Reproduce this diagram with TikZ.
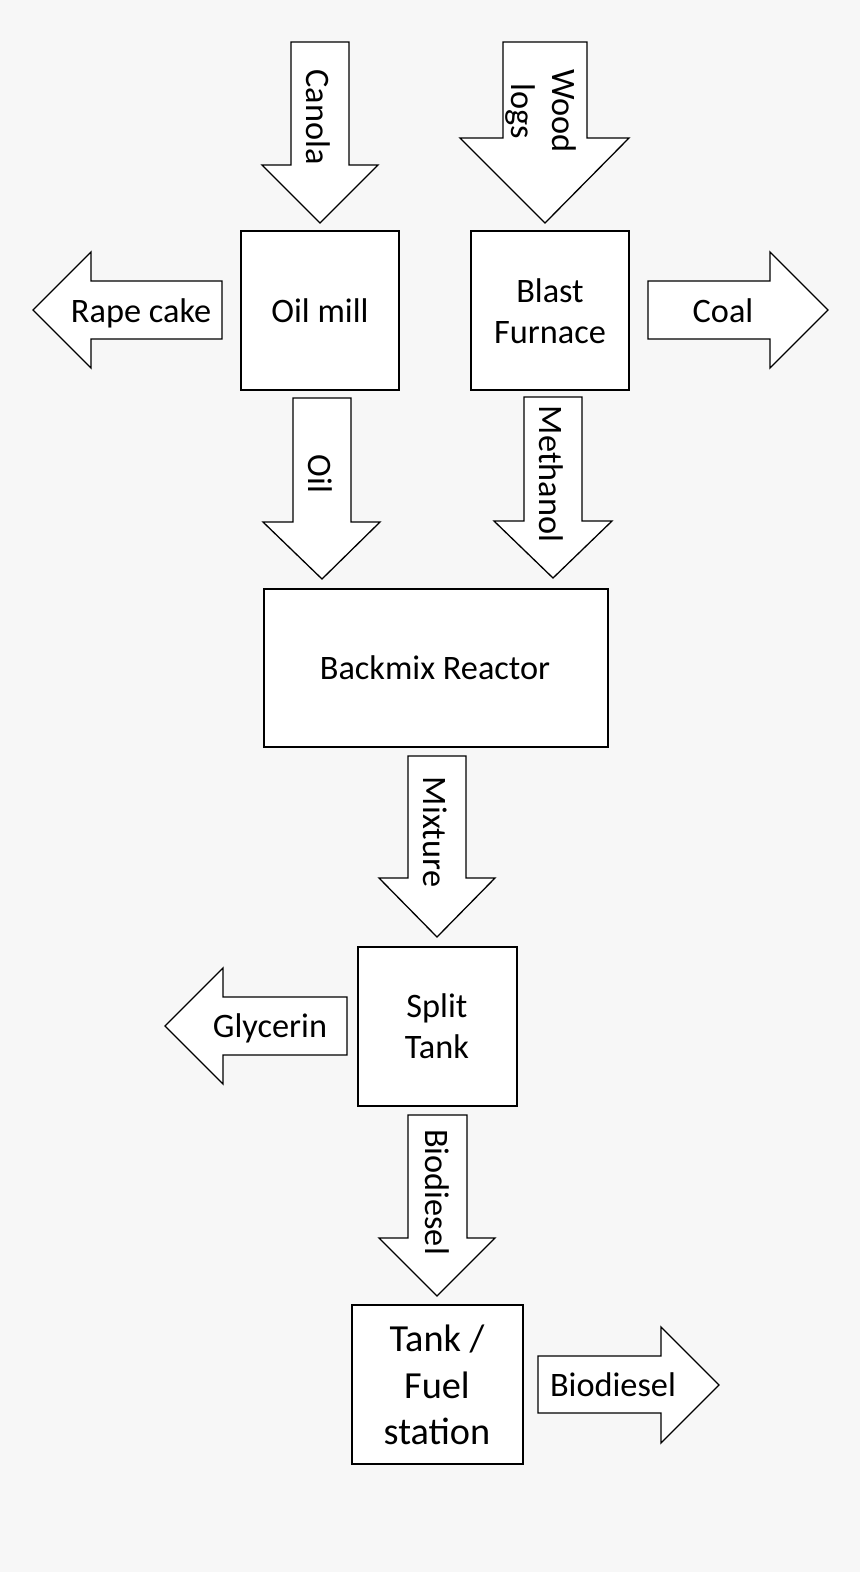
\documentclass[tikz,border=0pt]{standalone}
\usepackage{fontspec}
\setmainfont{Carlito}
\definecolor{bgcol}{HTML}{F7F7F7}
\begin{document}
\begin{tikzpicture}[x=1pt,y=-1pt,
  shapebox/.style={draw=black,fill=white,line width=1.3pt,line join=miter},
  lbl/.style={inner sep=0pt,anchor=base,font=\fontsize{34.3}{41}\selectfont},
  biglbl/.style={inner sep=0pt,anchor=base,font=\fontsize{38.3}{46}\selectfont},
  vlbl/.style={lbl,rotate=-90}]
\fill[bgcol] (0,0) rectangle (860,1572);
\useasboundingbox (0,0) rectangle (860,1572);
% block arrows
\draw[shapebox] (291,42)--(349,42)--(349,165)--(378,165)--(320,223)--(262,165)--(291,165)--cycle;
\draw[shapebox] (503,42)--(587,42)--(587,138)--(629,138)--(545,223)--(460,138)--(503,138)--cycle;
\draw[shapebox] (222,281)--(91,281)--(91,252)--(33,310)--(91,368)--(91,339)--(222,339)--cycle;
\draw[shapebox] (648,281)--(770,281)--(770,252)--(828,310)--(770,368)--(770,339)--(648,339)--cycle;
\draw[shapebox] (293,398)--(351,398)--(351,522)--(380,522)--(322,579)--(263,522)--(293,522)--cycle;
\draw[shapebox] (524,397)--(582,397)--(582,521)--(612,521)--(553,578)--(494,521)--(524,521)--cycle;
\draw[shapebox] (408,756)--(466,756)--(466,878)--(495,878)--(437,937)--(379,878)--(408,878)--cycle;
\draw[shapebox] (347,997)--(223,997)--(223,968)--(165,1026)--(223,1084)--(223,1055)--(347,1055)--cycle;
\draw[shapebox] (408,1115)--(467,1115)--(467,1238)--(495,1238)--(437,1296)--(379,1238)--(408,1238)--cycle;
\draw[shapebox] (538,1356)--(661,1356)--(661,1327)--(719,1385)--(661,1443)--(661,1413)--(538,1413)--cycle;
% boxes
\draw[shapebox] (241,231) rectangle (399,390);
\draw[shapebox] (471,231) rectangle (629,390);
\draw[shapebox] (264,589) rectangle (608,747);
\draw[shapebox] (358,947) rectangle (517,1106);
\draw[shapebox] (352,1305) rectangle (523,1464);
% labels
\node[vlbl] (canola) at (306,117) {Canola};
\node[vlbl] (wood) at (552,111) {Wood};
\node[vlbl] (logs) at (511,111) {logs};
\node[lbl] (rape) at (141,322) {Rape cake};
\node[lbl] (oilmill) at (320,322) {Oil mill};
\node[lbl] (blast) at (550,302) {Blast};
\node[lbl] (furnace) at (550,343) {Furnace};
\node[lbl] (coal) at (723,322) {Coal};
\node[vlbl] (oil) at (308,474) {Oil};
\node[vlbl] (methanol) at (539,474) {Methanol};
\node[lbl] (backmix) at (435,679) {Backmix Reactor};
\node[vlbl] (mixture) at (423,832) {Mixture};
\node[lbl] (split) at (437,1017) {Split};
\node[lbl] (tank) at (437,1058) {Tank};
\node[lbl] (glycerin) at (270,1037) {Glycerin};
\node[vlbl] (biodown) at (425,1192) {Biodiesel};
\node[biglbl] (t1) at (437,1351) {Tank /};
\node[biglbl] (t2) at (437,1398) {Fuel};
\node[biglbl] (t3) at (437,1444) {station};
\node[lbl] (bioright) at (613,1396) {Biodiesel};
\end{tikzpicture}
\end{document}
